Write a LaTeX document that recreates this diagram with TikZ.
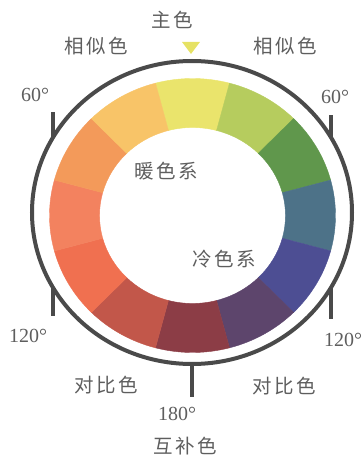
\documentclass[tikz,border=0pt]{standalone}
\usepackage{fontspec}
\setmainfont{Liberation Serif}
\newfontfamily\cjk{Noto Sans CJK SC}
\definecolor{c0}{HTML}{EAE46C}
\definecolor{c1}{HTML}{B6CC5E}
\definecolor{c2}{HTML}{60974C}
\definecolor{c3}{HTML}{4D7288}
\definecolor{c4}{HTML}{4D4E93}
\definecolor{c5}{HTML}{5D456C}
\definecolor{c6}{HTML}{8C3D46}
\definecolor{c7}{HTML}{C2574A}
\definecolor{c8}{HTML}{F07050}
\definecolor{c9}{HTML}{F3825F}
\definecolor{c10}{HTML}{F39A5A}
\definecolor{c11}{HTML}{F8C468}
\definecolor{ringgray}{HTML}{4A4A4A}
\definecolor{txtgray}{HTML}{5E5E5E}
\definecolor{tricol}{HTML}{E6E264}
\newcommand{\gp}{\hspace{2.5pt}}
\begin{document}
\begin{tikzpicture}[x=1pt,y=1pt,
  lbl/.style={text=txtgray, inner sep=0pt, font=\cjk\fontsize{19.5}{20}\selectfont},
  deg/.style={text=txtgray, inner sep=0pt, font=\fontsize{20}{20}\selectfont},
  ringline/.style={draw=ringgray, line width=4pt},
  tickline/.style={draw=ringgray, line width=4pt}]
\useasboundingbox (0,0) rectangle (361,456);
\coordinate (c) at (192.5,240.5);
\coordinate (d) at (192,243.5);
\foreach \i/\col in {0/c0,1/c1,2/c2,3/c3,4/c4,5/c5,6/c6,7/c7,8/c8,9/c9,10/c10,11/c11} {
  \pgfmathsetmacro\aa{90-30*\i}
  \pgfmathsetmacro\bb{\aa-15}
  \pgfmathsetmacro\ee{\aa+15}
  \filldraw[fill=\col, draw=\col, line width=0.4pt]
    ([shift={(\bb:143 and 137)}]c)
    arc[start angle=\bb, end angle=\ee, x radius=143, y radius=137]
    -- ([shift={(\ee:93 and 88)}]c)
    arc[start angle=\ee, end angle=\bb, x radius=93, y radius=88]
    -- cycle;
}
% outer dark ring
\draw[ringline] (d) ellipse [x radius=160, y radius=151.5];
% ticks
\coordinate (t1) at ([shift={(150:160 and 151.5)}]d);
\coordinate (t2) at ([shift={(30:160 and 151.5)}]d);
\coordinate (t3) at ([shift={(210:160 and 151.5)}]d);
\coordinate (t4) at ([shift={(-30:160 and 151.5)}]d);
\coordinate (t5) at ([shift={(-90:160 and 151.5)}]d);
\coordinate (e1) at ([shift={(0,25)}]t1);
\coordinate (e2) at ([shift={(0,22)}]t2);
\coordinate (e3) at ([shift={(0,-28)}]t3);
\coordinate (e4) at ([shift={(0,-31)}]t4);
\coordinate (e5) at ([shift={(0,-33)}]t5);
\draw[tickline] (t1) -- (e1);
\draw[tickline] (t2) -- (e2);
\draw[tickline] (t3) -- (e3);
\draw[tickline] (t4) -- (e4);
\draw[tickline] (t5) -- (e5);
% marker triangle
\fill[tricol] (182,414) -- (200,414) -- (191,402) -- cycle;
% labels
\node[lbl] (main) at (172.5,436) {主\gp{}色};
\node[lbl] (simL) at (96,410) {相\gp{}似\gp{}色};
\node[lbl] (simR) at (285,410) {相\gp{}似\gp{}色};
\node[deg] (d60L) at (35,361) {60°};
\node[deg] (d60R) at (335,359.5) {60°};
\node[lbl] (warm) at (166,284.5) {暖\gp{}色\gp{}系};
\node[lbl] (cold) at (224,197) {冷\gp{}色\gp{}系};
\node[deg] (d120L) at (28,120.5) {120°};
\node[deg] (d120R) at (343,116) {120°};
\node[lbl] (conL) at (106,71) {对\gp{}比\gp{}色};
\node[lbl] (conR) at (284,70) {对\gp{}比\gp{}色};
\node[deg] (d180) at (177,42) {180°};
\node[lbl] (comp) at (185,9.5) {互\gp{}补\gp{}色};
\end{tikzpicture}
\end{document}
